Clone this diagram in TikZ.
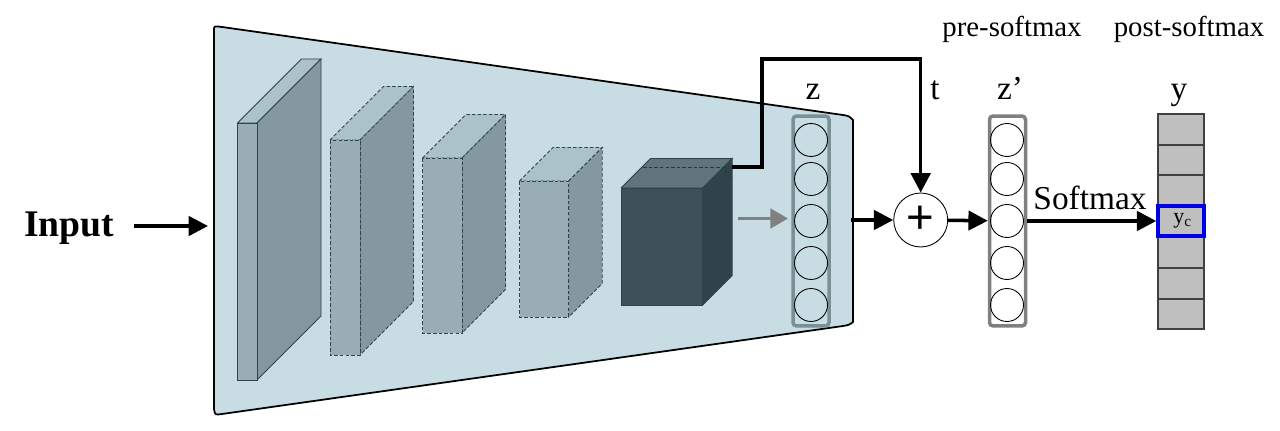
\documentclass[tikz,border=0pt]{standalone}
\usepackage{fontspec}
\setmainfont{Liberation Serif}
\newfontfamily\plusfont{Liberation Sans}
\usetikzlibrary{arrows.meta}
\definecolor{panelc}{HTML}{C7DDE3}
\definecolor{frontc}{HTML}{98AEB4}
\definecolor{sidec}{HTML}{84999F}
\definecolor{topc}{HTML}{ABC2C9}
\definecolor{dfrontc}{HTML}{3C5258}
\definecolor{dsidec}{HTML}{2F444A}
\definecolor{dtopc}{HTML}{5F757B}
\definecolor{edgec}{HTML}{2F444A}
\definecolor{colc}{HTML}{7A9097}
\tikzset{
  neuron/.style={circle,draw=black,line width=.5pt,minimum size=.66cm,inner sep=0pt},
  column/.style={draw,rounded corners=2pt,line width=2pt,minimum width=.72cm,minimum height=4.2cm,inner sep=0pt},
  cell/.style={draw=black!75,fill=black!25,line width=.7pt,minimum width=.92cm,inner sep=0pt},
  conn/.style={line width=2pt,-{Triangle[length=11pt,width=11pt]}},
  lab/.style={font=\fontsize{19}{19}\selectfont,inner sep=0pt,anchor=base}
}
\begin{document}
\begin{tikzpicture}[x=.02cm,y=-.02cm]
\useasboundingbox (0,0) rectangle (1280,431);
\draw[fill=panelc,line width=1pt,line join=round] (222,27) -- (843,115) .. controls (849,116) .. (853,120) -- (853,322)
  .. controls (849,325) .. (843,326) -- (222,414) .. controls (215,415) .. (214,409) -- (214,30) .. controls (214,26) .. (222,27) -- cycle;
\foreach \xa/\xb/\ya/\yb/\d/\colf/\cols/\colt/\da/\db in
  {237.5/257/123/380/64/frontc/sidec/topc/5/0,%
   330/360/140/355/53.5/frontc/sidec/topc/2/1.2,%
   422.5/462/158/333/43.5/frontc/sidec/topc/2/1.2,%
   519.5/568.7/181/317/33.5/frontc/sidec/topc/2/1.2,%
   621/702.7/188/305/29.5/dfrontc/dsidec/dtopc/5/0}
  {
  \draw[fill=\colt,draw=edgec,line width=.5pt,dash pattern=on \da pt off \db pt] (\xa,\ya) -- ({\xa+\d},{\ya-\d}) -- ({\xb+\d},{\ya-\d}) -- (\xb,\ya) -- cycle;
  \draw[fill=\cols,draw=edgec,line width=.5pt,dash pattern=on \da pt off \db pt] (\xb,\ya) -- ({\xb+\d},{\ya-\d}) -- ({\xb+\d},{\yb-\d}) -- (\xb,\yb) -- cycle;
  \draw[fill=\colf,draw=edgec,line width=.5pt,dash pattern=on \da pt off \db pt] (\xa,\ya) rectangle (\xb,\yb);
  }
\draw[draw=black!80,line width=.4pt,dash pattern=on 2pt off 1.2pt] (643,167) -- (725,167) -- (725,177) -- (732,177);
\coordinate (conva) at (732,167);
\coordinate (convb) at (762,59);
\coordinate (greya) at (738,218.5);
\coordinate (greyb) at (788,218.5);
\coordinate (panelr) at (851,220);
\coordinate (panell) at (208,226);
\coordinate (inputr) at (134,226);
\node[column,draw=colc] (zcol) at (811,221) {};
\node[column,draw=black!50] (zpcol) at (1007.5,221) {};
\foreach \n/\y in {1/140,2/179,3/221,4/263,5/305}
  {
  \node[neuron] (z\n) at (811,\y) {};
  \node[neuron] (zp\n) at (1007,\y) {};
  }
\node[circle,draw=black,fill=white,line width=.5pt,minimum size=1.08cm,inner sep=0pt,font=\plusfont\fontsize{27}{27}\selectfont] (plus) at (920.7,220) {+};
\foreach \n/\y/\h in {1/129.5/31,2/160/30,3/190/30,5/252.5/31,6/283.5/31,7/314/30}
  \node[cell,minimum height=\h*.02cm] (y\n) at (1181,\y) {};
\node[cell,draw=blue!90!black,line width=2pt,minimum height=.6cm,font=\fontsize{12.5}{12.5}\selectfont] (y4) at (1181,221) {\hspace{2pt}\raisebox{-2.8pt}{y\textsubscript{c}}};
\node[lab] (zlab) at (813,100) {z};
\node[lab] (tlab) at (935,100) {t};
\node[lab] (zplab) at (1010,100) {z’};
\node[lab] (ylab) at (1179,100) {y};
\node[lab] (softlab) at (1090,210) {Softmax};
\node[lab,font=\fontsize{16.4}{16.4}\selectfont] (prelab) at (1012,37) {pre-softmax};
\node[lab,font=\fontsize{16.4}{16.4}\selectfont] (postlab) at (1189,37) {post-softmax};
\node[lab,font=\bfseries\fontsize{21.4}{21.4}\selectfont] (inputlab) at (69,237) {Input};
\draw[conn] (inputr) -- (panell);
\draw[conn,line join=miter] (conva) -| (convb) -| (plus);
\draw[conn] (panelr) -- (plus);
\draw[conn] (plus) -- (zpcol);
\draw[conn] (zpcol) -- (y4);
\draw[draw=black!50,line width=2pt,-{Triangle[length=10pt,width=11pt]}] (greya) -- (greyb);
\end{tikzpicture}
\end{document}
